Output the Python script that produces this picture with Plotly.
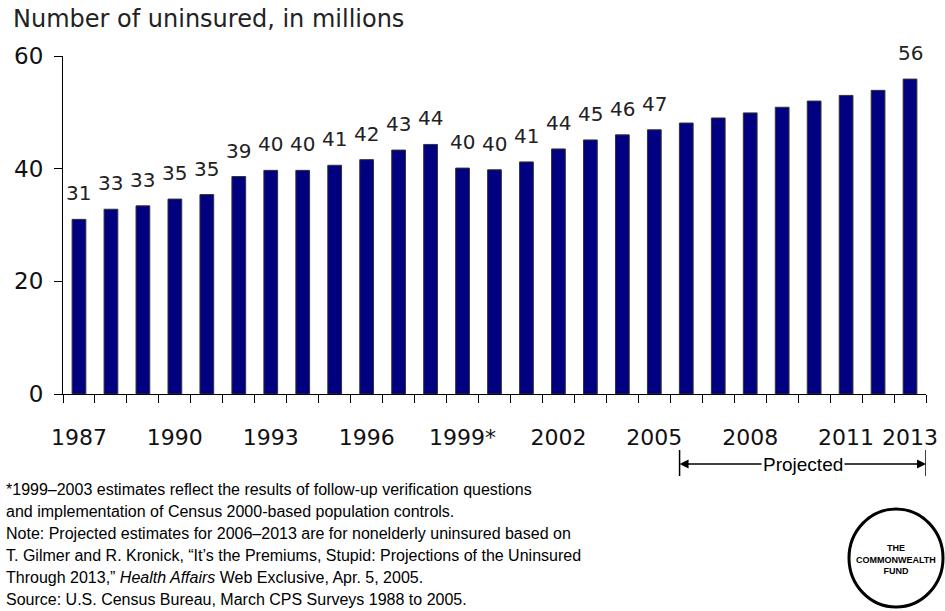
import plotly.graph_objects as go

# ---- data ----
years = list(range(1987, 2014))
uninsured = [31.0, 32.8, 33.4, 34.6, 35.4, 38.6, 39.7, 39.7, 40.6, 41.6, 43.3, 44.3,
             40.1, 39.8, 41.2, 43.5, 45.1, 46.0, 46.9, 48.1, 49.0, 49.9, 50.9, 52.0,
             53.0, 53.9, 55.9]
bar_labels = ["31", "33", "33", "35", "35", "39", "40", "40", "41", "42", "43", "44",
              "40", "40", "41", "44", "45", "46", "47", "", "", "", "", "", "", "", "56"]
tick_years = [1987, 1990, 1993, 1996, 1999, 2002, 2005, 2008, 2011, 2013]
tick_text = ["1987", "1990", "1993", "1996", "1999*", "2002", "2005", "2008", "2011", "2013"]
y_ticks = [0, 20, 40, 60]
projected_start, projected_end = 2005.79, 2013.5

footnotes = [
    "*1999\u20132003 estimates reflect the results of follow-up verification questions",
    "and implementation of Census 2000-based population controls.",
    "Note: Projected estimates for 2006\u20132013 are for nonelderly uninsured based on",
    "T. Gilmer and R. Kronick, \u201cIt\u2019s the Premiums, Stupid: Projections of the Uninsured",
    "Through 2013,\u201d <i>Health Affairs</i> Web Exclusive, Apr. 5, 2005.",
    "Source: U.S. Census Bureau, March CPS Surveys 1988 to 2005.",
]

# ---- layout geometry (pixels) ----
W, H = 945, 611
L, R, T, B = 63, 19, 56, 217
PW, PH = W - L - R, H - T - B


def px(x):
    return (x - L) / PW


def py(y):
    return (H - B - y) / PH


MAIN_FONT = "DejaVu Sans"
NOTE_FONT = "Liberation Sans, Arial, sans-serif"

fig = go.Figure()
fig.add_trace(go.Bar(
    x=years, y=uninsured, width=0.43,
    marker=dict(color="#000080", line=dict(color="#333333", width=1)),
    hoverinfo="x+y",
))

annotations = []
for yr, v, lab in zip(years, uninsured, bar_labels):
    if lab:
        annotations.append(dict(x=yr, y=v, xref="x", yref="y", text=lab, showarrow=False,
                                xanchor="center", yanchor="middle", yshift=26,
                                font=dict(family=MAIN_FONT, size=20, color="#222222")))

# title
annotations.append(dict(x=px(11), y=py(19), xref="paper", yref="paper", xanchor="left",
                        yanchor="middle", text="Number of uninsured, in millions",
                        showarrow=False, font=dict(family=MAIN_FONT, size=24, color="#222222")))

# footnotes
note_y = [489, 511, 533, 555, 577, 599]
for txt, yy in zip(footnotes, note_y):
    annotations.append(dict(x=px(4), y=py(yy), xref="paper", yref="paper", xanchor="left",
                            yanchor="middle", text=txt, showarrow=False,
                            font=dict(family=NOTE_FONT, size=16, color="#000000")))

# projected arrows
mid = (projected_start + projected_end) / 2
arrow_y = py(464)
for end in (projected_start, projected_end):
    annotations.append(dict(x=end, y=arrow_y, xref="x", yref="paper", ax=mid, ay=0,
                            axref="x", ayref="pixel", text="", showarrow=True,
                            arrowhead=2, arrowsize=1.2, arrowwidth=1.5, arrowcolor="#000000",
                            standoff=0, startstandoff=0))
annotations.append(dict(x=mid, y=arrow_y, xref="x", yref="paper", text="Projected",
                        showarrow=False, bgcolor="#ffffff", borderpad=1,
                        xanchor="center", yanchor="middle",
                        font=dict(family=NOTE_FONT, size=19, color="#000000")))

# logo text
annotations.append(dict(x=px(896), y=py(559), xref="paper", yref="paper",
                        xanchor="center", yanchor="middle",
                        text="<b>THE<br>COMMONWEALTH<br>FUND</b>", showarrow=False,
                        font=dict(family=NOTE_FONT, size=9, color="#000000")))

shapes = [
    dict(type="line", xref="x", yref="paper", x0=projected_start, x1=projected_start,
         y0=py(450), y1=py(476), line=dict(color="#000000", width=1.5)),
    dict(type="line", xref="x", yref="paper", x0=projected_end, x1=projected_end,
         y0=py(450), y1=py(476), line=dict(color="#000000", width=1.5)),
    dict(type="circle", xref="paper", yref="paper", x0=px(849), x1=px(943),
         y0=py(509), y1=py(607), line=dict(color="#000000", width=3)),
]

fig.update_layout(
    width=W, height=H,
    margin=dict(l=L, r=R, t=T, b=B, pad=0, autoexpand=False),
    paper_bgcolor="#ffffff", plot_bgcolor="#ffffff",
    showlegend=False,
    bargap=0.57,
    annotations=annotations,
    shapes=shapes,
    xaxis=dict(
        range=[1986.5, 2013.5], tickmode="array", tickvals=tick_years, ticktext=tick_text,
        ticks="", showgrid=False, zeroline=False, showline=True, linecolor="#000000",
        linewidth=1, ticklabelstandoff=24, automargin=False,
        tickfont=dict(family=MAIN_FONT, size=22, color="#111111"),
        minor=dict(tick0=0.5, dtick=1, ticks="outside", ticklen=8, tickcolor="#000000",
                   showgrid=False),
        fixedrange=True,
    ),
    yaxis=dict(
        range=[0, 60], tickmode="array", tickvals=y_ticks, ticks="outside", ticklen=8,
        tickcolor="#000000", showgrid=False, zeroline=False, showline=True,
        linecolor="#000000", linewidth=1, ticklabelstandoff=6, automargin=False,
        tickfont=dict(family=MAIN_FONT, size=23, color="#111111"),
        fixedrange=True,
    ),
)

fig.write_html("out.html", config={"displayModeBar": False},
               post_script="document.body.style.margin='0px';document.body.style.overflow='hidden';")
